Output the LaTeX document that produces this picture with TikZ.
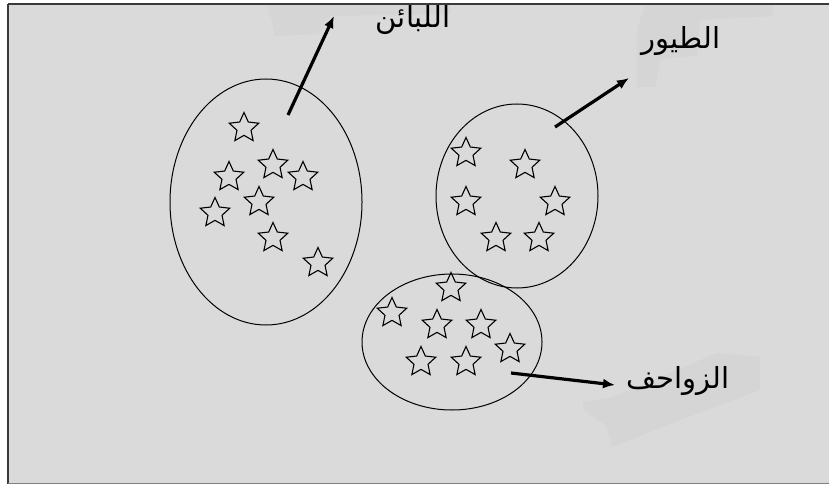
\documentclass[tikz,border=0pt]{standalone}
\usepackage{fontspec}
\newfontfamily\arabicfont[Script=Arabic]{DejaVu Sans}
\TeXXeTstate=1
\usetikzlibrary{shapes.geometric,arrows.meta}
\definecolor{panel}{HTML}{DADADA}
\definecolor{smudge}{HTML}{D5D5D5}
\definecolor{framegray}{HTML}{3A3A3A}
\tikzset{
  group/.style={ellipse, draw=black, line width=1pt, inner sep=0pt},
  starmark/.style={star, star points=5, star point ratio=2.1, minimum size=31pt,
    inner sep=0pt, draw=black, line width=1.1pt},
  pointer/.style={line width=3.2pt, -{Latex[length=12pt,width=10pt]}},
  tag/.style={font=\arabicfont\fontsize{29}{32}\selectfont, inner sep=0pt}
}
\begin{document}
\begin{tikzpicture}[x=1pt,y=-1pt]
\useasboundingbox (0,0) rectangle (829,484);
% page and grey panel
\fill[white] (0,0) rectangle (829,484);
\fill[panel] (8,4) rectangle (829,484);
% faint smudges on the panel
\fill[smudge] (268,5) -- (450,5) -- (450,14) -- (330,16) -- (320,34) -- (275,36) -- cycle;
\fill[smudge] (645,5) -- (773,5) -- (773,16) -- (700,20) -- (697,55) -- (660,60) -- (655,87) -- (637,87) -- (637,30) -- cycle;
\fill[smudge] (583,402) -- (613,397) -- (717,353) -- (760,357) -- (760,390) -- (680,420) -- (612,447) -- (606,425) -- (583,410) -- cycle;
% frame lines
\draw[framegray, line width=2pt] (8,4) -- (829,4);
\draw[framegray, line width=2pt] (8,4) -- (8,484);
\draw[gray, line width=1.5pt] (8,483.5) -- (829,483.5);

% groups
\node[group, minimum width=192pt, minimum height=246pt] (mam) at (266,202) {};
\node[group, minimum width=162pt, minimum height=184pt] (bird) at (517,196) {};
\node[group, minimum width=180pt, minimum height=136pt] (rep) at (452,342) {};

% stars, first group
\foreach \n/\p in {m1/{244,128}, m2/{273,165}, m3/{229,177}, m4/{303,177},
                   m5/{259,202}, m6/{215,213}, m7/{273,238}, m8/{318,263}}
  \node[starmark] (\n) at (\p) {};
% stars, second group
\foreach \n/\p in {b1/{466,153}, b2/{525,165}, b3/{466,202}, b4/{555,202},
                   b5/{496,238}, b6/{539,238}}
  \node[starmark] (\n) at (\p) {};
% stars, third group
\foreach \n/\p in {r1/{451,288}, r2/{392,313}, r3/{437,325}, r4/{481,325},
                   r5/{510,349}, r6/{421,362}, r7/{466,362}}
  \node[starmark] (\n) at (\p) {};

% labels
\node[tag] (lmam) at (413,20) {\beginR اللبائن\endR};
\node[tag] (lbird) at (681,41) {\beginR الطيور\endR};
\node[tag] (lrep) at (678,381) {\beginR الزواحف\endR};

% arrows from the groups towards the labels
\coordinate (tm) at (288,115);
\coordinate (hm) at (334,16);
\coordinate (tb) at (555,127);
\coordinate (hb) at (629,78);
\coordinate (tr) at (511,373);
\coordinate (hr) at (615,385);
\draw[pointer] (tm) -- (hm);
\draw[pointer] (tb) -- (hb);
\draw[pointer] (tr) -- (hr);
\end{tikzpicture}
\end{document}
